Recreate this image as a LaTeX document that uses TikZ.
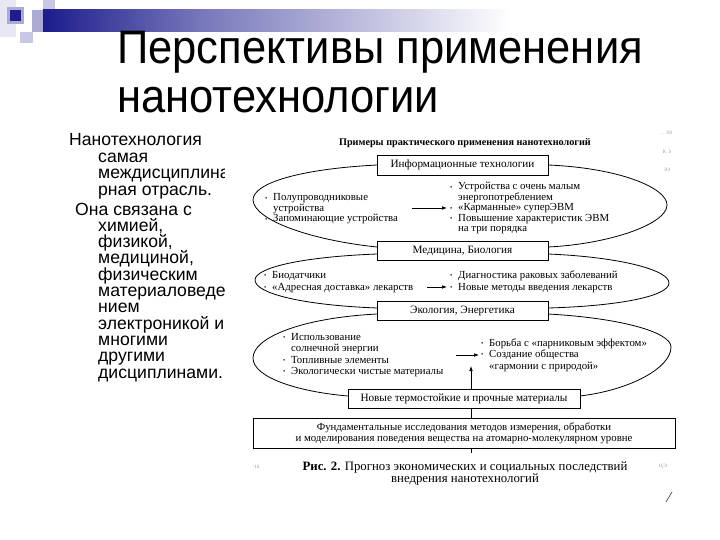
\documentclass[tikz,border=0pt]{standalone}
\usepackage{fontspec}
\setmainfont{Liberation Serif}
\newfontfamily\arialf{Liberation Sans}
\usetikzlibrary{arrows.meta}
\newcommand{\dgf}{\fontsize{10.8}{11}\selectfont}
\newcommand{\bxf}{\fontsize{11.2}{12}\selectfont}
\newcommand{\bl}{\makebox[8pt][l]{\raisebox{0.8pt}{\fontsize{6.5}{6.5}\selectfont •}}}
\definecolor{navy}{RGB}{28,28,140}
\definecolor{lav}{RGB}{200,200,228}
\definecolor{lavm}{RGB}{170,170,212}
\definecolor{lavl}{RGB}{232,232,244}
\begin{document}
\begin{tikzpicture}[x=1pt,y=-1pt,
  lefttxt/.style={anchor=base west, inner sep=0pt, font=\arialf\fontsize{17.6}{18}\selectfont},
  ttl/.style={anchor=base west, inner sep=0pt, font=\arialf\fontsize{43.5}{50}\selectfont},
  tx/.style={anchor=base west, inner sep=0pt, font=\dgf},
  bx/.style={draw, line width=0.9pt, fill=white, inner sep=0pt, font=\bxf},
  loop/.style={line width=0.8pt},
  arr/.style={line width=0.6pt, -{Latex[length=5pt,width=3.6pt]}},
  junk/.style={inner sep=0pt, text=black!35, font=\fontsize{7}{7}\selectfont}]
\useasboundingbox (0,0) rectangle (720,540);
\fill[white] (0,0) rectangle (720,540);
% decoration
\fill[lavl] (0,0) rectangle (16,37);
\fill[lav] (43,0) rectangle (55,10);
\fill[lavm] (32,10) rectangle (43,32);
\fill[lav] (20,32) rectangle (33,43);
\fill[lavl!70!navy] (7,7) rectangle (24,24);
\fill[navy] (10,10) rectangle (21,21);
\shade[left color=navy, right color=navy!60!white] (43,10) rectangle (200,32);
\shade[left color=navy!60!white, right color=white] (200,10) rectangle (510,32);
% title
\node[ttl] (t1) at (117,64) {\scalebox{1}[1.08]{Перспективы применения}};
\node[ttl] (t2) at (117,113) {\scalebox{1}[1.08]{нанотехнологии}};
% left text
\begin{scope}
\clip (60,125) rectangle (224.5,390);
\node[lefttxt] (l1) at (69,146) {Нанотехнология};
\node[lefttxt] (l2) at (98,162.4) {самая};
\node[lefttxt] (l3) at (98,178.8) {междисциплина};
\node[lefttxt] (l4) at (98,195.2) {рная отрасль.};
\node[lefttxt] (l5) at (75,215) {Она связана с};
\node[lefttxt] (l6) at (98,231.3) {химией,};
\node[lefttxt] (l7) at (98,247.6) {физикой,};
\node[lefttxt] (l8) at (98,263.9) {медициной,};
\node[lefttxt] (l9) at (98,280.2) {физическим};
\node[lefttxt] (l10) at (98,296.5) {материаловеде};
\node[lefttxt] (l11) at (98,312.8) {нием};
\node[lefttxt] (l12) at (98,329.1) {электроникой и};
\node[lefttxt] (l13) at (98,345.4) {многими};
\node[lefttxt] (l14) at (98,361.7) {другими};
\node[lefttxt] (l15) at (98,378) {дисциплинами.};
\end{scope}
% header
\node[inner sep=0pt, font=\bfseries\fontsize{10.2}{11}\selectfont] (hdr) at (465,143) {Примеры практического применения нанотехнологий};
% loops
\coordinate (a1) at (377,165); \coordinate (a2) at (548,165);
\coordinate (b1) at (377,247); \coordinate (b2) at (548,247);
\coordinate (c1) at (377,254); \coordinate (c2) at (548,254);
\coordinate (d1) at (377,308); \coordinate (d2) at (548,308);
\coordinate (e1) at (377,314); \coordinate (e2) at (548,314);
\coordinate (f1) at (348,396); \coordinate (f2) at (580,396);
\draw[loop] (a1) .. controls (300,169) and (253,183) .. (253,200) .. controls (254,220) and (310,240) .. (b1);
\draw[loop] (a2) .. controls (620,168) and (667,188) .. (667,205) .. controls (667,224) and (610,244) .. (b2);
\draw[loop] (c1) .. controls (300,257) and (255,268) .. (255,280) .. controls (255,293) and (300,305) .. (d1);
\draw[loop] (c2) .. controls (620,257) and (669,270) .. (669,283) .. controls (669,296) and (620,306) .. (d2);
\draw[loop] (e1) .. controls (300,318) and (253,338) .. (253,358) .. controls (253,378) and (300,392) .. (f1);
\draw[loop] (e2) .. controls (620,318) and (671,332) .. (671,347) .. controls (671,368) and (630,390) .. (f2);
% boxes
\node[bx, minimum width=171pt, minimum height=20pt] (b1box) at (462.5,165) {Информационные технологии};
\node[bx, minimum width=171pt, minimum height=19pt] (b2box) at (462.5,250.5) {Медицина, Биология};
\node[bx, minimum width=171pt, minimum height=19pt] (b3box) at (462.5,311) {Экология, Энергетика};
\node[bx, minimum width=232pt, minimum height=19pt] (b4box) at (464,398.5) {Новые термостойкие и прочные материалы};
\node[bx, minimum width=422pt, minimum height=30pt, align=center, font=\fontsize{10.8}{11.2}\selectfont] (b5box) at (464,433) {Фундаментальные исследования методов измерения, обработки\\и моделирования поведения вещества на атомарно-молекулярном уровне};
% ellipse 1 texts
\node[tx] (e1l1) at (265,201) {\bl Полупроводниковые};
\node[tx] (e1l2) at (273,211.5) {устройства};
\node[tx] (e1l3) at (265,222) {\bl Запоминающие устройства};
\node[tx] (e1r1) at (450,190) {\bl Устройства с очень малым};
\node[tx] (e1r2) at (458,200.5) {энергопотреблением};
\node[tx] (e1r3) at (450,211) {\bl «Карманные» суперЭВМ};
\node[tx] (e1r4) at (450,221.5) {\bl Повышение характеристик ЭВМ};
\node[tx] (e1r5) at (458,232) {на три порядка};
\coordinate (ar1s) at (412,208); \coordinate (ar1e) at (447,208);
\draw[arr] (ar1s) -- (ar1e);
% ellipse 2 texts
\node[tx] (e2l1) at (264,278.5) {\bl Биодатчики};
\node[tx] (e2l2) at (264,290) {\bl «Адресная доставка» лекарств};
\node[tx] (e2r1) at (450,278.5) {\bl Диагностика раковых заболеваний};
\node[tx] (e2r2) at (450,290) {\bl Новые методы введения лекарств};
\coordinate (ar2s) at (427,287); \coordinate (ar2e) at (447,287);
\draw[arr] (ar2s) -- (ar2e);
% ellipse 3 texts
\node[tx] (e3l1) at (283,340) {\bl Использование};
\node[tx] (e3l2) at (291,351.5) {солнечной энергии};
\node[tx] (e3l3) at (283,363) {\bl Топливные элементы};
\node[tx] (e3l4) at (283,374.5) {\bl Экологически чистые материалы};
\node[tx] (e3r1) at (481,346) {\bl Борьба с «парниковым эффектом»};
\node[tx] (e3r2) at (481,357.5) {\bl Создание общества};
\node[tx] (e3r3) at (489,369) {«гармонии с природой»};
\coordinate (ar3s) at (456,355); \coordinate (ar3e) at (479,355);
\draw[arr] (ar3s) -- (ar3e);
% vertical links
\coordinate (v1) at (471,389); \coordinate (v2) at (471,366);
\draw[arr] (v1) -- (v2);
\coordinate (v3) at (471,408); \coordinate (v4) at (471,418);
\draw[line width=0.6pt] (v3) -- (v4);
\coordinate (v5) at (471,448); \coordinate (v6) at (471,453);
\draw[line width=0.6pt] (v5) -- (v6);
% caption
\node[inner sep=0pt, font=\fontsize{12.8}{13}\selectfont] (cap1) at (465,467) {\textbf{Рис. 2.} Прогноз экономических и социальных последствий};
\node[inner sep=0pt, font=\fontsize{12.8}{13}\selectfont] (cap2) at (465,479.5) {внедрения нанотехнологий};
% scan artefacts
\node[junk] (j1) at (667,133) {. ээ};
\node[junk] (j2) at (667,152) {к э};
\node[junk] (j3) at (667,170) {ээ};
\node[junk] (j4) at (256,467) {·ıs};
\node[junk] (j5) at (663,467) {ıçэ};
\coordinate (s1) at (672,492); \coordinate (s2) at (666,502);
\draw[black!70, line width=0.7pt] (s1) -- (s2);
\end{tikzpicture}
\end{document}
